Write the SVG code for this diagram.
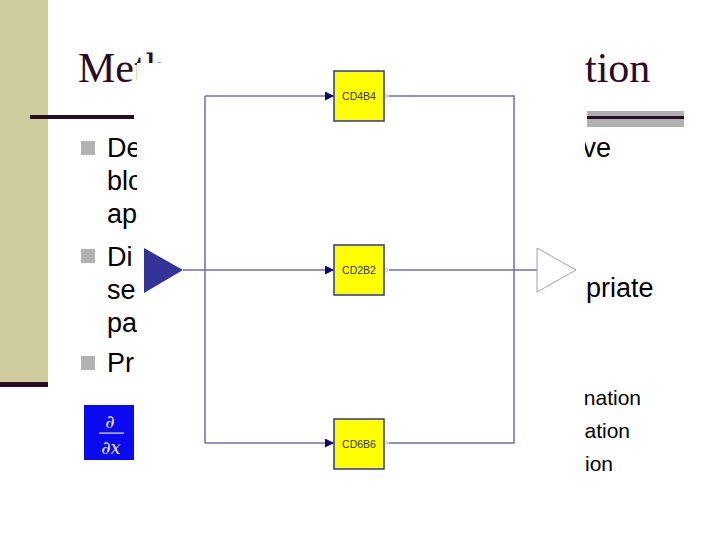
<svg xmlns="http://www.w3.org/2000/svg" width="720" height="540" viewBox="0 0 720 540">
  <defs>
    <style>
      .title { font-family: "Liberation Serif", "Times New Roman", serif; font-size: 42px; fill: #2a0a2a; }
      .body { font-family: "Liberation Sans", Arial, sans-serif; font-size: 27px; fill: #000000; }
      .sub { font-family: "Liberation Sans", Arial, sans-serif; font-size: 21px; fill: #000000; }
      .bullet { fill: #b2b2b2; }
      .wire { fill: none; stroke: #6f6fa8; stroke-width: 1.5; }
      .block { fill: #ffff00; stroke: #333399; stroke-width: 1.5; }
      .blabel { font-family: "Liberation Sans", Arial, sans-serif; font-size: 10.5px; fill: #333333; text-anchor: middle; }
      .port { fill: none; stroke: #999999; stroke-width: 0.8; }
      .math { font-family: "DejaVu Serif", "Liberation Serif", serif; font-style: italic; fill: #eee6cc; text-anchor: middle; }
    </style>
    <clipPath id="vis">
      <path clip-rule="evenodd" d="M0 0H720V540H0Z M137 63H585V490H137Z"/>
    </clipPath>
    <marker id="arr" viewBox="0 0 10 10" refX="10" refY="5" markerWidth="10" markerHeight="9" markerUnits="userSpaceOnUse" orient="auto">
      <path d="M0 0L10 5L0 10Z" fill="#000080"/>
    </marker>
  </defs>

  <!-- slide background -->
  <rect x="0" y="0" width="720" height="540" fill="#ffffff"/>
  <rect x="0" y="0" width="48" height="382" fill="#cccc9c"/>
  <rect x="0" y="382" width="48" height="5" fill="#2b0a26"/>

  <!-- title -->
  <g clip-path="url(#vis)">
    <text class="title" x="78" y="82">Meth</text>
  </g>
  <text class="title" x="585" y="82">tion</text>
  <rect x="30" y="115" width="104" height="4" fill="#2b0a26"/>
  <rect x="587" y="111" width="97" height="16" fill="#b0b0b0"/>
  <rect x="587" y="116" width="97" height="3" fill="#2b0a26"/>

  <!-- bullets -->
  <rect class="bullet" x="81" y="141" width="14" height="14"/>
  <rect class="bullet" x="81" y="249" width="14" height="14"/>
  <rect class="bullet" x="81" y="356" width="14" height="14"/>
  <g clip-path="url(#vis)">
    <text class="body" x="107" y="157">De</text>
    <text class="body" x="107" y="190">blo</text>
    <text class="body" x="107" y="223">ap</text>
    <text class="body" x="107" y="266">Di</text>
    <text class="body" x="107" y="299">se</text>
    <text class="body" x="107" y="332">pa</text>
    <text class="body" x="107" y="372">Pr</text>
    <text class="body" x="611" y="157" text-anchor="end">ve</text>
    <text class="sub" x="641" y="405" text-anchor="end">nation</text>
    <text class="sub" x="630" y="438" text-anchor="end">ation</text>
    <text class="sub" x="613" y="471" text-anchor="end">ion</text>
  </g>
  <text class="body" x="586" y="297">priate</text>

  <!-- derivative operator -->
  <rect x="84" y="405" width="50" height="55" fill="#0a0af0"/>
  <text class="math" x="110" y="428" font-size="18">∂</text>
  <rect x="99" y="432.5" width="25" height="1.2" fill="#eee6cc"/>
  <text class="math" x="111" y="454" font-size="18">∂x</text>

  <!-- connectors -->
  <g id="connectors">
    <path class="wire" d="M183 270H334" marker-end="url(#arr)"/>
    <path class="wire" d="M205 96V443"/>
    <path class="wire" d="M205 96H334" marker-end="url(#arr)"/>
    <path class="wire" d="M205 443H334" marker-end="url(#arr)"/>
    <path class="wire" d="M389 96H514V443H389"/>
    <path class="wire" d="M389 270H537"/>
  </g>

  <!-- nodes -->
  <g id="input">
    <path d="M144 248L183 270L144 293Z" fill="#333399"/>
  </g>
  <g id="CD4B4">
    <rect class="block" x="334" y="71" width="50" height="50"/>
    <text class="blabel" x="359" y="100">CD4B4</text>
    <path class="port" d="M385.5 94L388 96L385.5 98"/>
  </g>
  <g id="CD2B2">
    <rect class="block" x="334" y="245" width="50" height="50"/>
    <text class="blabel" x="359" y="274">CD2B2</text>
    <path class="port" d="M385.5 268L388 270L385.5 272"/>
  </g>
  <g id="CD6B6">
    <rect class="block" x="334" y="419" width="50" height="50"/>
    <text class="blabel" x="359" y="448">CD6B6</text>
    <path class="port" d="M385.5 441L388 443L385.5 445"/>
  </g>
  <g id="output">
    <path d="M537 248L576 270L537 292Z" fill="#ffffff" stroke="#8a8a8a" stroke-width="0.8"/>
  </g>
</svg>
